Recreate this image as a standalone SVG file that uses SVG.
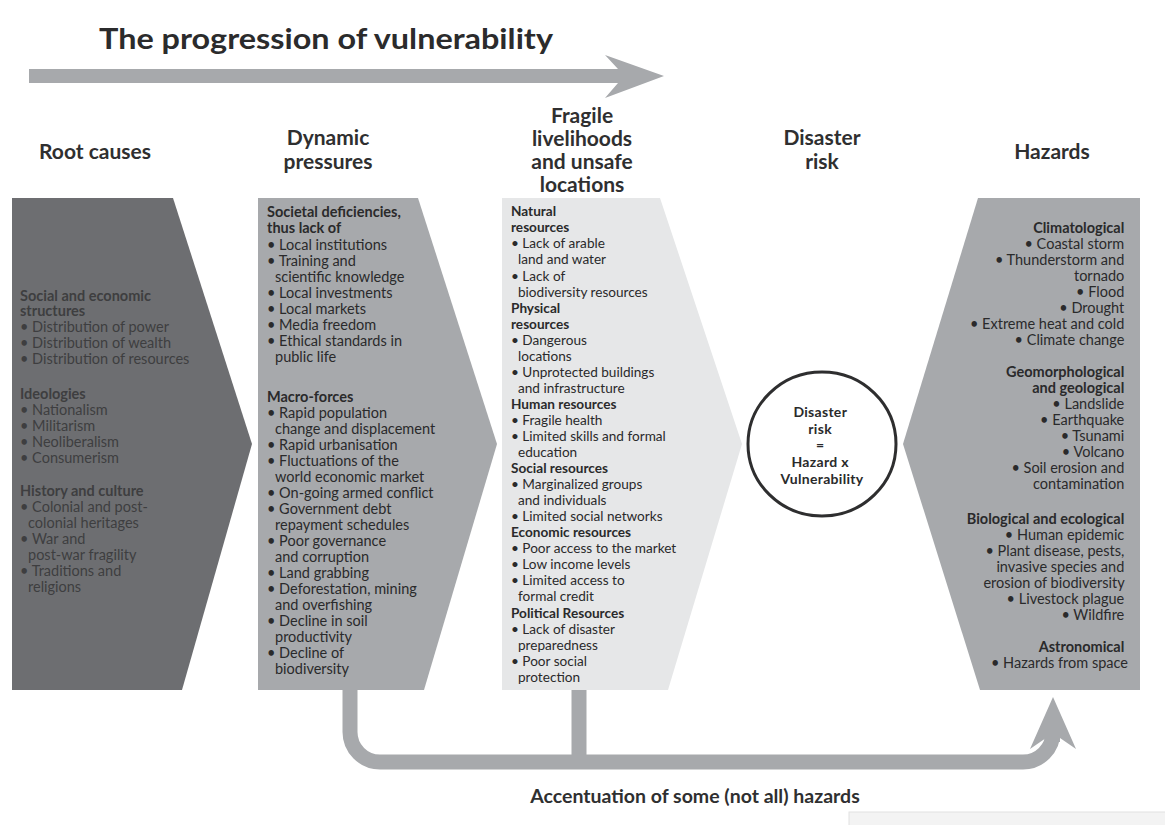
<svg xmlns="http://www.w3.org/2000/svg" width="1165" height="825" viewBox="0 0 1165 825">
  <style>
    .title { font-family: Lato, "Open Sans", sans-serif; font-weight: 700; font-size: 29px; fill: #2b2b2c; }
    .hdr { font-family: Lato, "Open Sans", sans-serif; font-weight: 700; font-size: 21px; fill: #2f2f30; text-anchor: middle; }
    .body { font-family: Lato, "Open Sans", sans-serif; font-size: 14.5px; fill: #2a2a2b; }
    .small { font-size: 13.6px; }
    .dark { fill: #3e3e40; }
    .b { font-weight: 700; }
    .end { text-anchor: end; }
    .mid { text-anchor: middle; }
    .flow { fill: #a7a9ac; }
    .feed { fill: none; stroke: #a7a9ac; stroke-width: 15; }
  </style>

  <!-- heading -->
  <text id="title" class="title" x="99" y="49" textLength="454" lengthAdjust="spacingAndGlyphs">The progression of vulnerability</text>

  <!-- column headings -->
  <g id="headings">
    <text class="hdr" x="95" y="159">Root causes</text>
    <text class="hdr" x="328" y="145">Dynamic</text>
    <text class="hdr" x="328" y="169">pressures</text>
    <text class="hdr" x="582" y="123">Fragile</text>
    <text class="hdr" x="582" y="146">livelihoods</text>
    <text class="hdr" x="582" y="169">and unsafe</text>
    <text class="hdr" x="582" y="192">locations</text>
    <text class="hdr" x="822" y="145">Disaster</text>
    <text class="hdr" x="822" y="169">risk</text>
    <text class="hdr" x="1052" y="159">Hazards</text>
  </g>

  <!-- connectors -->
  <g id="connectors">
    <!-- progression arrow -->
    <polygon class="flow" points="29,69 618,69 605,55 664,76 605,98 618,83 29,83"/>
    <!-- accentuation feedback -->
    <path class="feed" d="M350,690 V732 A30,30 0 0 0 380,762 H1023 A30,30 0 0 0 1053,732 V738"/>
    <path class="feed" d="M579,690 V762"/>
    <polygon class="flow" points="1046,742 1046,738 1030,749 1053,697 1076,749 1060,738 1060,742"/>
  </g>

  <!-- Root causes -->
  <g id="node-root">
    <polygon points="12,198 173,198 252,444 182,690 12,690" fill="#6d6e71"/>
    <text class="body dark">
      <tspan class="b" x="20" y="301">Social and economic</tspan>
      <tspan class="b" x="20" y="316">structures</tspan>
      <tspan x="20" y="332">• Distribution of power</tspan>
      <tspan x="20" y="348">• Distribution of wealth</tspan>
      <tspan x="20" y="364">• Distribution of resources</tspan>
      <tspan class="b" x="20" y="399">Ideologies</tspan>
      <tspan x="20" y="415">• Nationalism</tspan>
      <tspan x="20" y="431">• Militarism</tspan>
      <tspan x="20" y="447">• Neoliberalism</tspan>
      <tspan x="20" y="463">• Consumerism</tspan>
      <tspan class="b" x="20" y="496">History and culture</tspan>
      <tspan x="20" y="512">• Colonial and post-</tspan>
      <tspan x="28" y="528">colonial heritages</tspan>
      <tspan x="20" y="544">• War and</tspan>
      <tspan x="28" y="560">post-war fragility</tspan>
      <tspan x="20" y="576">• Traditions and</tspan>
      <tspan x="28" y="592">religions</tspan>
    </text>
  </g>

  <!-- Dynamic pressures -->
  <g id="node-dynamic">
    <polygon points="258,198 418,198 497,444 424,690 258,690" fill="#a7a9ac"/>
    <text class="body">
      <tspan class="b" x="267" y="217">Societal deficiencies,</tspan>
      <tspan class="b" x="267" y="233">thus lack of</tspan>
      <tspan x="267" y="250">• Local institutions</tspan>
      <tspan x="267" y="266">• Training and</tspan>
      <tspan x="275" y="282">scientific knowledge</tspan>
      <tspan x="267" y="298">• Local investments</tspan>
      <tspan x="267" y="314">• Local markets</tspan>
      <tspan x="267" y="330">• Media freedom</tspan>
      <tspan x="267" y="346">• Ethical standards in</tspan>
      <tspan x="275" y="362">public life</tspan>
      <tspan class="b" x="267" y="402">Macro-forces</tspan>
      <tspan x="267" y="418">• Rapid population</tspan>
      <tspan x="275" y="434">change and displacement</tspan>
      <tspan x="267" y="450">• Rapid urbanisation</tspan>
      <tspan x="267" y="466">• Fluctuations of the</tspan>
      <tspan x="275" y="482">world economic market</tspan>
      <tspan x="267" y="498">• On-going armed conflict</tspan>
      <tspan x="267" y="514">• Government debt</tspan>
      <tspan x="275" y="530">repayment schedules</tspan>
      <tspan x="267" y="546">• Poor governance</tspan>
      <tspan x="275" y="562">and corruption</tspan>
      <tspan x="267" y="578">• Land grabbing</tspan>
      <tspan x="267" y="594">• Deforestation, mining</tspan>
      <tspan x="275" y="610">and overfishing</tspan>
      <tspan x="267" y="626">• Decline in soil</tspan>
      <tspan x="275" y="642">productivity</tspan>
      <tspan x="267" y="658">• Decline of</tspan>
      <tspan x="275" y="674">biodiversity</tspan>
    </text>
  </g>

  <!-- Fragile livelihoods and unsafe locations -->
  <g id="node-fragile">
    <polygon points="502,198 660,198 742,444 668,690 502,690" fill="#e6e7e8"/>
    <text class="body small">
      <tspan class="b" x="511" y="216">Natural</tspan>
      <tspan class="b" x="511" y="232">resources</tspan>
      <tspan x="511" y="248">• Lack of arable</tspan>
      <tspan x="518" y="264">land and water</tspan>
      <tspan x="511" y="281">• Lack of</tspan>
      <tspan x="518" y="297">biodiversity resources</tspan>
      <tspan class="b" x="511" y="313">Physical</tspan>
      <tspan class="b" x="511" y="329">resources</tspan>
      <tspan x="511" y="345">• Dangerous</tspan>
      <tspan x="518" y="361">locations</tspan>
      <tspan x="511" y="377">• Unprotected buildings</tspan>
      <tspan x="518" y="393">and infrastructure</tspan>
      <tspan class="b" x="511" y="409">Human resources</tspan>
      <tspan x="511" y="425">• Fragile health</tspan>
      <tspan x="511" y="441">• Limited skills and formal</tspan>
      <tspan x="518" y="457">education</tspan>
      <tspan class="b" x="511" y="473">Social resources</tspan>
      <tspan x="511" y="489">• Marginalized groups</tspan>
      <tspan x="518" y="505">and individuals</tspan>
      <tspan x="511" y="521">• Limited social networks</tspan>
      <tspan class="b" x="511" y="537">Economic resources</tspan>
      <tspan x="511" y="553">• Poor access to the market</tspan>
      <tspan x="511" y="569">• Low income levels</tspan>
      <tspan x="511" y="585">• Limited access to</tspan>
      <tspan x="518" y="601">formal credit</tspan>
      <tspan class="b" x="511" y="618">Political Resources</tspan>
      <tspan x="511" y="634">• Lack of disaster</tspan>
      <tspan x="518" y="650">preparedness</tspan>
      <tspan x="511" y="666">• Poor social</tspan>
      <tspan x="518" y="682">protection</tspan>
    </text>
  </g>

  <!-- Disaster risk -->
  <g id="node-risk">
    <ellipse cx="822" cy="444" rx="74" ry="72" fill="#ffffff" stroke="#2e2e2f" stroke-width="3"/>
    <text class="body b mid" style="font-size:14px; letter-spacing:0.3px">
      <tspan x="822" y="417">Disaster</tspan>
      <tspan x="822" y="434">risk</tspan>
      <tspan x="822" y="450">=</tspan>
      <tspan x="822" y="467">Hazard x</tspan>
      <tspan x="822" y="484">Vulnerability</tspan>
    </text>
  </g>

  <!-- Hazards -->
  <g id="node-hazards">
    <polygon points="978,198 1140,198 1140,690 980,690 903,444" fill="#a7a9ac"/>
    <text class="body end">
      <tspan class="b" x="1128" y="233">Climatological</tspan>
      <tspan x="1128" y="249">• Coastal storm</tspan>
      <tspan x="1128" y="265">• Thunderstorm and</tspan>
      <tspan x="1128" y="281">tornado</tspan>
      <tspan x="1128" y="297">• Flood</tspan>
      <tspan x="1128" y="313">• Drought</tspan>
      <tspan x="1128" y="329">• Extreme heat and cold</tspan>
      <tspan x="1128" y="345">• Climate change</tspan>
      <tspan class="b" x="1128" y="377">Geomorphological</tspan>
      <tspan class="b" x="1128" y="393">and geological</tspan>
      <tspan x="1128" y="409">• Landslide</tspan>
      <tspan x="1128" y="425">• Earthquake</tspan>
      <tspan x="1128" y="441">• Tsunami</tspan>
      <tspan x="1128" y="457">• Volcano</tspan>
      <tspan x="1128" y="473">• Soil erosion and</tspan>
      <tspan x="1128" y="489">contamination</tspan>
      <tspan class="b" x="1128" y="524">Biological and ecological</tspan>
      <tspan x="1128" y="540">• Human epidemic</tspan>
      <tspan x="1128" y="556">• Plant disease, pests,</tspan>
      <tspan x="1128" y="572">invasive species and</tspan>
      <tspan x="1128" y="588">erosion of biodiversity</tspan>
      <tspan x="1128" y="604">• Livestock plague</tspan>
      <tspan x="1128" y="620">• Wildfire</tspan>
      <tspan class="b" x="1128" y="652">Astronomical</tspan>
      <tspan x="1128" y="668">• Hazards from space</tspan>
    </text>
  </g>

  <!-- feedback label -->
  <text id="feedback-label" class="hdr" x="695" y="803" style="font-size:19.5px">Accentuation of some (not all) hazards</text>

  <!-- faint panel at lower right edge -->
  <rect x="849" y="812" width="320" height="20" fill="#f3f3f3" stroke="#e2e2e2" stroke-width="1"/>
</svg>
